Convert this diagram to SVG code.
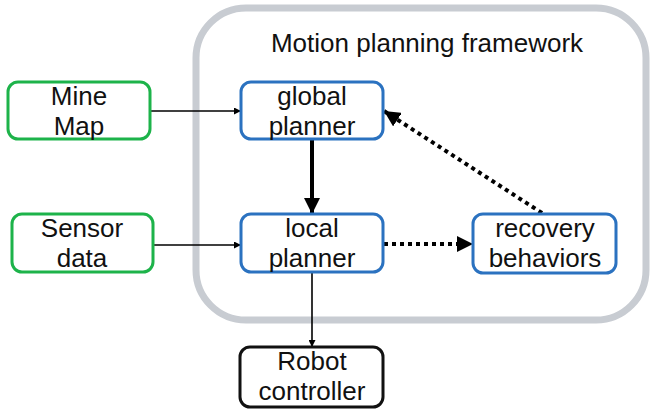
<svg xmlns="http://www.w3.org/2000/svg" width="650" height="410" viewBox="0 0 650 410">
<style>
text{font-family:"Liberation Sans",Arial,sans-serif;font-size:26px;fill:#111;text-anchor:middle}
.g{fill:#fff;stroke:#1db34a;stroke-width:3}
.b{fill:#fff;stroke:#2b72c0;stroke-width:3}
.k{fill:#fff;stroke:#111;stroke-width:3}
.thin{stroke:#000;stroke-width:1.6;fill:none}
.thick{stroke:#000;stroke-width:4;fill:none}
.dot{stroke:#000;stroke-width:4;fill:none;stroke-dasharray:4 4}
</style>
<defs>
<marker id="a" viewBox="0 0 10 10" refX="10" refY="5" markerWidth="7" markerHeight="7" markerUnits="userSpaceOnUse" orient="auto"><path d="M0,0L10,5L0,10z" fill="#000"/></marker>
<marker id="A" viewBox="0 0 10 10" refX="10" refY="5" markerWidth="4" markerHeight="4" orient="auto"><path d="M0,0L10,5L0,10z" fill="#000"/></marker>
</defs>
<rect width="650" height="410" fill="#fff"/>
<g id="frame">
<rect x="196" y="8" width="450" height="312" rx="50" fill="#fff" stroke="#c8ccd2" stroke-width="7"/>
<text x="427" y="52">Motion planning framework</text>
</g>
<g id="connectors">
<line class="thin" x1="150" y1="111" x2="241" y2="111" marker-end="url(#a)"/>
<line class="thin" x1="153" y1="245" x2="241" y2="245" marker-end="url(#a)"/>
<line class="thick" x1="312" y1="139" x2="312" y2="214" marker-end="url(#A)"/>
<line class="thin" x1="312" y1="272" x2="312" y2="347" marker-end="url(#a)"/>
<line class="dot" x1="384" y1="244" x2="473" y2="244" marker-end="url(#A)"/>
<line class="dot" x1="542" y1="213" x2="384" y2="111" marker-end="url(#A)"/>
</g>
<g id="mine-map">
<rect class="g" x="8" y="82" width="142" height="57" rx="10"/>
<text x="79" y="105">Mine</text><text x="79" y="135">Map</text>
</g>
<g id="sensor-data">
<rect class="g" x="12" y="214" width="141" height="58" rx="10"/>
<text x="82" y="237">Sensor</text><text x="82" y="267">data</text>
</g>
<g id="global-planner">
<rect class="b" x="241" y="82" width="142" height="57" rx="10"/>
<text x="312" y="105">global</text><text x="312" y="135">planner</text>
</g>
<g id="local-planner">
<rect class="b" x="241" y="214" width="142" height="58" rx="10"/>
<text x="312" y="237">local</text><text x="312" y="267">planner</text>
</g>
<g id="recovery-behaviors">
<rect class="b" x="473" y="214" width="143" height="59" rx="10"/>
<text x="545" y="237">recovery</text><text x="545" y="267">behaviors</text>
</g>
<g id="robot-controller">
<rect class="k" x="240" y="347" width="143" height="60" rx="10"/>
<text x="312" y="370">Robot</text><text x="312" y="400">controller</text>
</g>
</svg>
